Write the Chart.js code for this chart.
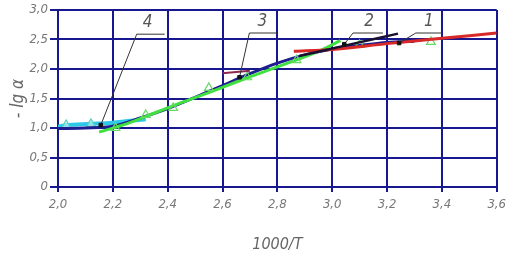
<!DOCTYPE html>
<html>
<head>
<meta charset="utf-8">
<script src="https://cdn.jsdelivr.net/npm/chart.js@4/dist/chart.umd.min.js"></script>
<style>
  body { margin: 0; background: #fff; }
  #wrap { width: 511px; height: 263px; }
</style>
</head>
<body>
<div id="wrap"><canvas id="myChart" width="511" height="263"></canvas></div>
<script>
const font = "'Liberation Sans Narrow', 'DejaVu Sans Condensed', sans-serif";
const gridColor = "#17178f";

// curve 1 (red)
let redX = [2.86, 3.0, 3.2, 3.4, 3.6];
let redY = [2.30, 2.33, 2.43, 2.52, 2.61];
// curve 2 (black)
let blackX = [2.88, 3.05, 3.24];
let blackY = [2.22, 2.40, 2.60];
// curve 3 (navy)
let navyX = [2.0, 2.1, 2.2, 2.3, 2.4, 2.5, 2.6, 2.7, 2.8, 2.9, 3.0, 3.1, 3.2, 3.3];
let navyY = [0.99, 1.0, 1.03, 1.17, 1.33, 1.52, 1.72, 1.92, 2.10, 2.24, 2.34, 2.40, 2.45, 2.47];
// curve 4 (cyan)
let cyanX = [2.0, 2.03, 2.12, 2.2, 2.32];
let cyanY = [1.02, 1.05, 1.07, 1.09, 1.15];
let cyanPts = [0, 5, 5, 0, 0];
// green fit line and triangles
let greenX = [2.15, 2.25, 2.35, 2.45, 2.55, 2.65, 2.75, 2.85, 2.95, 3.03];
let greenY = [0.93, 1.07, 1.25, 1.43, 1.60, 1.78, 1.95, 2.12, 2.30, 2.48];
let triX = [2.21, 2.32, 2.42, 2.55, 2.69, 2.87, 3.10, 3.36];
let triY = [1.00, 1.22, 1.34, 1.68, 1.86, 2.15, 2.41, 2.46];
// short maroon piece
let maroonX = [2.60, 2.70];
let maroonY = [1.93, 1.97];

// leaders: marker point, bend, end of shelf
let leaderNames = ["4", "3", "2", "1"];
let leaderX = [[2.156, 2.287, 2.389], [2.662, 2.698, 2.80], [3.044, 3.076, 3.185], [3.244, 3.305, 3.40]];
let leaderY = [[1.05, 2.59, 2.59], [1.86, 2.61, 2.61], [2.42, 2.61, 2.61], [2.44, 2.61, 2.61]];
let labelX = [2.327, 2.745, 3.135, 3.353];
let labelY = [2.79, 2.80, 2.80, 2.80];

let xTicks = [2.0, 2.2, 2.4, 2.6, 2.8, 3.0, 3.2, 3.4, 3.6];
let yTicks = [0, 0.5, 1.0, 1.5, 2.0, 2.5, 3.0];

function pts(xs, ys) {
  return xs.map((x, i) => ({ x: x, y: ys[i] }));
}

function lineSet(xs, ys, color, width, order) {
  return {
    data: pts(xs, ys),
    showLine: true,
    borderColor: color,
    borderWidth: width,
    pointRadius: 0,
    tension: 0.3,
    order: order,
  };
}

let datasets = [];
leaderX.forEach((lx, i) => {
  datasets.push({
    data: pts(lx, leaderY[i]),
    showLine: true,
    borderColor: "#333",
    borderWidth: 1,
    pointStyle: "rect",
    pointRadius: [2.5, 0, 0],
    pointBackgroundColor: "#111",
    pointBorderColor: "#111",
    order: 0,
  });
});
datasets.push(lineSet(blackX, blackY, "#1a1030", 2.5, 1));
datasets.push(lineSet(redX, redY, "#d82828", 3, 2));
datasets.push(lineSet(maroonX, maroonY, "#8a2a50", 2, 2));
datasets.push({
  data: pts(triX, triY),
  showLine: false,
  pointStyle: "triangle",
  pointRadius: 5,
  pointBorderWidth: 1.2,
  pointBorderColor: "#66d866",
  pointBackgroundColor: "rgba(255,255,255,0)",
  order: 3,
});
datasets.push(lineSet(greenX, greenY, "#3fe03f", 3, 4));
datasets.push(lineSet(navyX, navyY, "#1e1e90", 3, 5));
let cyan = lineSet(cyanX, cyanY, "#2ec8e8", 4, 6);
cyan.pointStyle = "triangle";
cyan.pointRadius = cyanPts;
cyan.pointBorderWidth = 1.2;
cyan.pointBorderColor = "#55d0c0";
cyan.pointBackgroundColor = "rgba(200,245,240,0.6)";
datasets.push(cyan);

const labelPlugin = {
  id: "leaderLabels",
  afterDatasetsDraw(chart) {
    let ctx = chart.ctx;
    let sx = chart.scales.x;
    let sy = chart.scales.y;
    ctx.save();
    ctx.fillStyle = "#555";
    ctx.font = "italic 17px " + font;
    ctx.textAlign = "center";
    ctx.textBaseline = "middle";
    leaderNames.forEach((n, i) => {
      ctx.fillText(n, sx.getPixelForValue(labelX[i]), sy.getPixelForValue(labelY[i]));
    });
    ctx.restore();
  },
};

function comma(v) {
  if (v === 0) return "0";
  return v.toFixed(1).replace(".", ",");
}

new Chart("myChart", {
  type: "scatter",
  data: { datasets: datasets },
  plugins: [labelPlugin],
  options: {
    responsive: false,
    animation: false,
    layout: { padding: { top: 10, right: 12, left: 0, bottom: 9 } },
    plugins: { legend: { display: false }, tooltip: { enabled: false } },
    scales: {
      x: {
        type: "linear",
        min: 2.0,
        max: 3.6,
        afterBuildTicks: (s) => { s.ticks = xTicks.map((v) => ({ value: v })); },
        afterFit: (s) => { s.height = 67; },
        ticks: {
          callback: (v) => comma(v),
          color: "#777",
          padding: 5,
          maxRotation: 0,
          font: { family: font, size: 13, style: "italic" },
        },
        grid: { color: gridColor, lineWidth: 2, tickLength: 5, tickColor: gridColor },
        border: { color: gridColor, width: 2 },
        title: {
          display: true,
          text: "1000/T",
          color: "#666",
          padding: { top: 0, bottom: 0 },
          font: { family: font, size: 16, style: "italic" },
        },
      },
      y: {
        type: "linear",
        min: 0,
        max: 3.0,
        afterBuildTicks: (s) => { s.ticks = yTicks.map((v) => ({ value: v })); },
        afterFit: (s) => { s.width = 58; },
        ticks: {
          callback: (v) => comma(v),
          color: "#777",
          padding: 2,
          font: { family: font, size: 13, style: "italic" },
        },
        grid: { color: gridColor, lineWidth: 2, tickLength: 8, tickColor: gridColor },
        border: { color: gridColor, width: 2 },
        title: {
          display: true,
          text: "- lg α",
          color: "#666",
          padding: { top: 8, bottom: 0 },
          font: { family: font, size: 17, style: "italic" },
        },
      },
    },
  },
});
</script>
</body>
</html>
